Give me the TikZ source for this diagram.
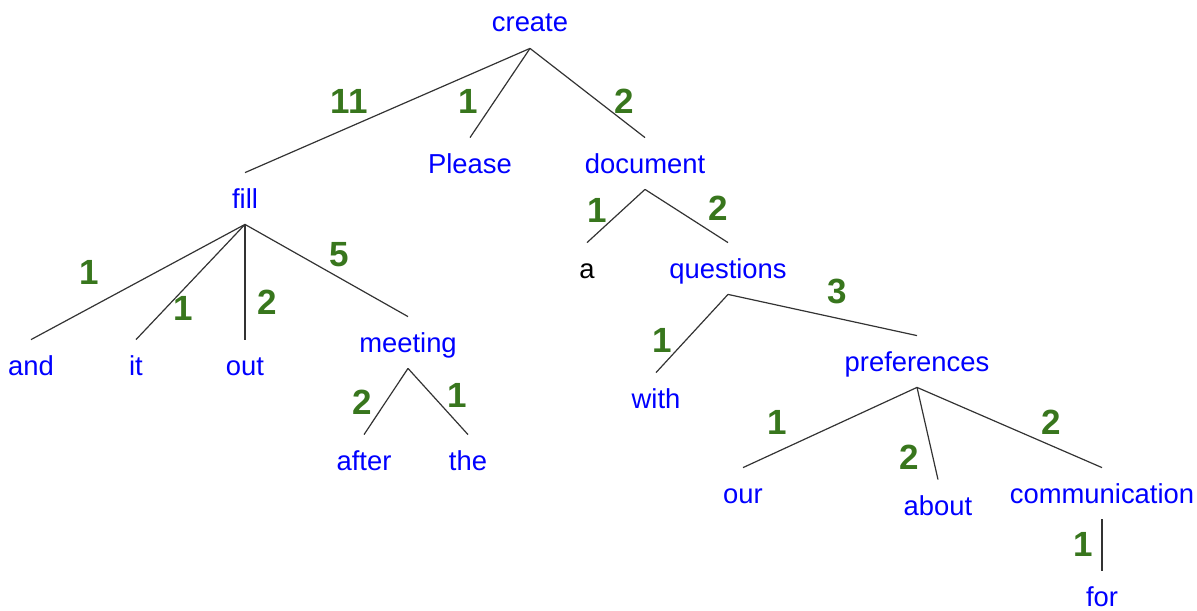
\documentclass[tikz,border=0pt]{standalone}
\usepackage{fontspec}
\setmainfont{Liberation Sans}
\usepackage{xcolor}
\definecolor{wordblue}{HTML}{0000FF}
\definecolor{weightgreen}{HTML}{38761D}
\tikzset{
    word/.style   = {text=wordblue, font=\fontsize{13.7}{16}\selectfont, anchor=base,
                     text height=15.5pt, text depth=6pt, inner ysep=2pt, inner xsep=0pt},
    weight/.style = {text=weightgreen, font=\fontsize{17.5}{20}\selectfont\bfseries, inner sep=0pt},
    branch/.style = {black!80, line width=0.6pt},
}
\begin{document}
\begin{tikzpicture}[x=0.5pt, y=-0.5pt]
        \useasboundingbox (0,0) rectangle (1197,610);
        % words, placed on their baselines
        \node[word] (create) at (530,32) {create};
        \node[word] (fill) at (245,208) {fill};
        \node[word] (please) at (470,173) {Please};
        \node[word] (document) at (645,173) {document};
        \node[word] (and) at (31,375) {and};
        \node[word] (it) at (136,375) {it};
        \node[word] (out) at (245,375) {out};
        \node[word] (meeting) at (408,352) {meeting};
        \node[word] (after) at (364,470) {after};
        \node[word] (the) at (468,470) {the};
        \node[word, text=black] (a) at (587,278) {a};
        \node[word] (questions) at (728,278) {questions};
        \node[word] (with) at (656,408) {with};
        \node[word] (preferences) at (917,371) {preferences};
        \node[word] (our) at (743,503) {our};
        \node[word] (about) at (938,515) {about};
        \node[word] (communication) at (1102,503) {communication};
        \node[word] (for) at (1102,606) {for};
        % branches
        \draw[branch] (create.south) -- (fill.north);
        \draw[branch] (create.south) -- (please.north);
        \draw[branch] (create.south) -- (document.north);
        \draw[branch] (fill.south) -- (and.north);
        \draw[branch] (fill.south) -- (it.north);
        \draw[branch] (fill.south) -- (out.north);
        \draw[branch] (fill.south) -- (meeting.north);
        \draw[branch] (meeting.south) -- (after.north);
        \draw[branch] (meeting.south) -- (the.north);
        \draw[branch] (document.south) -- (a.north);
        \draw[branch] (document.south) -- (questions.north);
        \draw[branch] (questions.south) -- (with.north);
        \draw[branch] (questions.south) -- (preferences.north);
        \draw[branch] (preferences.south) -- (our.north);
        \draw[branch] (preferences.south) -- (about.north);
        \draw[branch] (preferences.south) -- (communication.north);
        \draw[branch] (communication.south) -- (for.north);
        % counts
        \node[weight] (w-fill) at (349,101) {11};
        \node[weight] (w-please) at (468,101) {1};
        \node[weight] (w-document) at (624,101) {2};
        \node[weight] (w-and) at (89,272) {1};
        \node[weight] (w-it) at (183,308) {1};
        \node[weight] (w-out) at (267,302) {2};
        \node[weight] (w-meeting) at (339,255) {5};
        \node[weight] (w-after) at (362,402) {2};
        \node[weight] (w-the) at (457,395) {1};
        \node[weight] (w-a) at (597,210) {1};
        \node[weight] (w-questions) at (718,208) {2};
        \node[weight] (w-with) at (662,340) {1};
        \node[weight] (w-preferences) at (837,291) {3};
        \node[weight] (w-our) at (777,422) {1};
        \node[weight] (w-about) at (909,457) {2};
        \node[weight] (w-communication) at (1051,422) {2};
        \node[weight] (w-for) at (1083,544) {1};
\end{tikzpicture}
\end{document}
